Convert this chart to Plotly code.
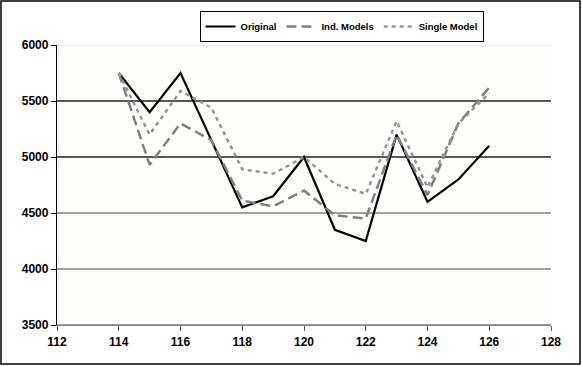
import plotly.graph_objects as go

x_vals = [114, 115, 116, 117, 118, 119, 120, 121, 122, 123, 124, 125, 126]
original = [5750, 5400, 5750, 5150, 4550, 4650, 5000, 4350, 4250, 5200, 4600, 4800, 5100]
ind_models = [5750, 4930, 5300, 5150, 4610, 4560, 4700, 4480, 4450, 5200, 4660, 5300, 5620]
single_model = [5750, 5200, 5590, 5440, 4890, 4850, 5000, 4760, 4670, 5320, 4730, 5300, 5570]

x_ticks = [112, 114, 116, 118, 120, 122, 124, 126, 128]
y_ticks = [3500, 4000, 4500, 5000, 5500, 6000]
grid_colors = ["#808080", "#808080", "#808080", "#222222", "#222222", "#e6e6e6"]

fig = go.Figure()
fig.add_trace(go.Scatter(x=x_vals, y=original, name="Original", mode="lines",
                         line=dict(color="black", width=2.2)))
fig.add_trace(go.Scatter(x=x_vals, y=ind_models, name="Ind. Models", mode="lines",
                         line=dict(color="#808080", width=2.5, dash="10px,5px")))
fig.add_trace(go.Scatter(x=x_vals, y=single_model, name="Single Model", mode="lines",
                         line=dict(color="#969696", width=2.5, dash="4px,4px")))

shapes = []
for v, c in zip(y_ticks, grid_colors):
    shapes.append(dict(type="line", xref="paper", x0=0, x1=1, yref="y", y0=v, y1=v,
                       line=dict(color=c, width=1.3), layer="below"))
shapes.append(dict(type="rect", xref="paper", yref="paper", x0=-0.1134, x1=1.0587,
                   y0=-0.139, y1=1.157, line=dict(color="black", width=1.5)))
fig.update_layout(shapes=shapes)

fig.update_layout(
    width=582, height=366,
    margin=dict(l=57, r=31, t=45, b=41, autoexpand=False),
    paper_bgcolor="white", plot_bgcolor="#fdfdfb",
    font=dict(family="Liberation Sans, Arial, sans-serif", color="black"),
    showlegend=True,
    legend=dict(orientation="h", x=0.576, xanchor="center", y=1.066, yanchor="middle",
                bgcolor="white", bordercolor="black", borderwidth=1,
                font=dict(size=9.5, family="Liberation Sans, Arial, sans-serif", weight="bold"),
                itemwidth=30, tracegroupgap=0),
)
fig.update_xaxes(range=[112, 128], tickvals=x_ticks, ticks="outside", ticklen=5,
                 tickcolor="#555", showgrid=False, zeroline=False,
                 showline=True, linecolor="#808080", linewidth=1.3,
                 tickfont=dict(size=12, weight="bold"))
fig.update_yaxes(range=[3500, 6000], tickvals=y_ticks, ticks="outside", ticklen=5,
                 tickcolor="black", showgrid=False, zeroline=False,
                 showline=True, linecolor="black", linewidth=1.3,
                 tickfont=dict(size=12, weight="bold"))

fig.write_html("out.html", config={"displayModeBar": False},
               post_script="document.body.style.margin='0';document.body.style.padding='0';")
